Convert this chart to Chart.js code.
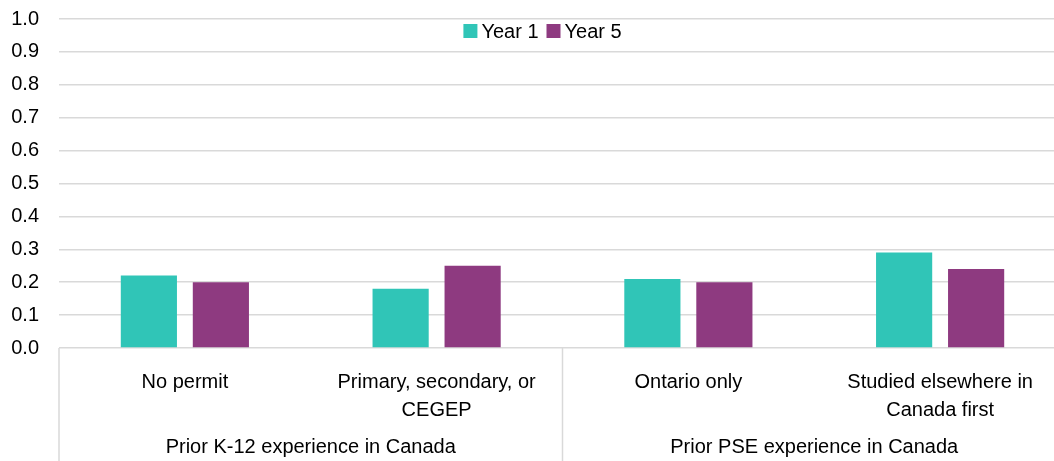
<!DOCTYPE html>
<html>
<head>
<meta charset="utf-8">
<script src="https://cdn.jsdelivr.net/npm/chart.js@4.4.1/dist/chart.umd.min.js"></script>
<style>
    html, body { margin: 0; padding: 0; background: #fff; overflow: hidden; }
    #wrap { position: relative; width: 1067px; height: 461px; }
</style>
</head>
<body>
<div id="wrap"><canvas id="barChart"></canvas></div>
<script>
const categories = ['No permit', ['Primary, secondary, or', 'CEGEP'], 'Ontario only', ['Studied elsewhere in', 'Canada first']];
const groups = ['Prior K-12 experience in Canada', 'Prior PSE experience in Canada'];
const groupSize = 2;
const year1 = [0.22, 0.18, 0.21, 0.29];
const year5 = [0.20, 0.25, 0.20, 0.24];
const yTicks = [0.0, 0.1, 0.2, 0.3, 0.4, 0.5, 0.6, 0.7, 0.8, 0.9, 1.0];

const teal = '#30C5B7';
const purple = '#8E3A80';
const lineGrey = '#D9D9D9';
const fontFamily = '"Liberation Sans", Arial, sans-serif';
const fontSize = 20;

// group labels and separator lines under the category labels
const groupAxis = {
    id: 'groupAxis',
    afterDraw(chart) {
        const ctx = chart.ctx;
        const x = chart.scales.x;
        const area = chart.chartArea;
        const half = (x.getPixelForValue(1) - x.getPixelForValue(0)) / 2;
        ctx.save();
        ctx.strokeStyle = lineGrey;
        ctx.lineWidth = 1.5;
        const edges = [];
        for (let g = 0; g <= groups.length; g++) {
            edges.push(x.getPixelForValue(g * groupSize) - half);
        }
        edges.forEach(px => {
            ctx.beginPath();
            ctx.moveTo(px, area.bottom);
            ctx.lineTo(px, chart.height);
            ctx.stroke();
        });
        ctx.fillStyle = '#000';
        ctx.font = fontSize + 'px ' + fontFamily;
        ctx.textAlign = 'center';
        ctx.textBaseline = 'middle';
        groups.forEach((name, g) => {
            ctx.fillText(name, (edges[g] + edges[g + 1]) / 2, area.bottom + 99);
        });
        ctx.restore();
    }
};

// legend drawn inside the plot area, like the original
const innerLegend = {
    id: 'innerLegend',
    afterDraw(chart) {
        const ctx = chart.ctx;
        ctx.save();
        ctx.font = fontSize + 'px ' + fontFamily;
        ctx.textBaseline = 'middle';
        ctx.textAlign = 'left';
        const box = 14;
        const items = chart.data.datasets.map(ds => ({ label: ds.label, color: ds.backgroundColor }));
        const widths = items.map(it => box + 4 + ctx.measureText(it.label).width);
        const gap = 8;
        const total = widths.reduce((a, b) => a + b, 0) + gap * (items.length - 1);
        let px = chart.width / 2 + 9 - total / 2;
        const cy = chart.chartArea.top + 12;
        items.forEach((it, i) => {
            ctx.fillStyle = it.color;
            ctx.fillRect(px, cy - box / 2, box, box);
            ctx.fillStyle = '#000';
            ctx.fillText(it.label, px + box + 4, cy + 1);
            px += widths[i] + gap;
        });
        ctx.restore();
    }
};

const barCtx = document.getElementById('barChart');

const barChart = new Chart(barCtx, {
    type: 'bar',
    data: {
        labels: categories,
        datasets: [{
            label: 'Year 1',
            data: year1,
            backgroundColor: teal,
            borderWidth: 0
        }, {
            label: 'Year 5',
            data: year5,
            backgroundColor: purple,
            borderWidth: 0
        }]
    },
    options: {
        responsive: true,
        maintainAspectRatio: false,
        animation: false,
        devicePixelRatio: 1,
        datasets: {
            bar: {
                categoryPercentage: 0.572,
                barPercentage: 0.78
            }
        },
        layout: {
            padding: { top: 19, right: 1, left: 0, bottom: 0 }
        },
        scales: {
            x: {
                grid: { display: false },
                border: { display: false },
                ticks: {
                    color: '#000',
                    padding: 12,
                    maxRotation: 0,
                    autoSkip: false,
                    font: { family: fontFamily, size: fontSize, lineHeight: 1.4 }
                },
                afterFit(scale) {
                    scale.height = 113;
                    scale.paddingLeft = 0;
                    scale.paddingRight = 0;
                }
            },
            y: {
                min: 0,
                max: 1,
                afterBuildTicks(scale) {
                    scale.ticks = yTicks.map(v => ({ value: v }));
                },
                grid: {
                    color: lineGrey,
                    lineWidth: 1.5,
                    drawTicks: false
                },
                border: { display: false },
                ticks: {
                    color: '#000',
                    padding: 20,
                    font: { family: fontFamily, size: fontSize },
                    callback: v => Number(v).toFixed(1)
                },
                afterFit(scale) {
                    scale.width = 59;
                    scale.paddingTop = 0;
                    scale.paddingBottom = 0;
                }
            }
        },
        plugins: {
            legend: { display: false },
            tooltip: { enabled: false }
        }
    },
    plugins: [groupAxis, innerLegend]
});
</script>
</body>
</html>
